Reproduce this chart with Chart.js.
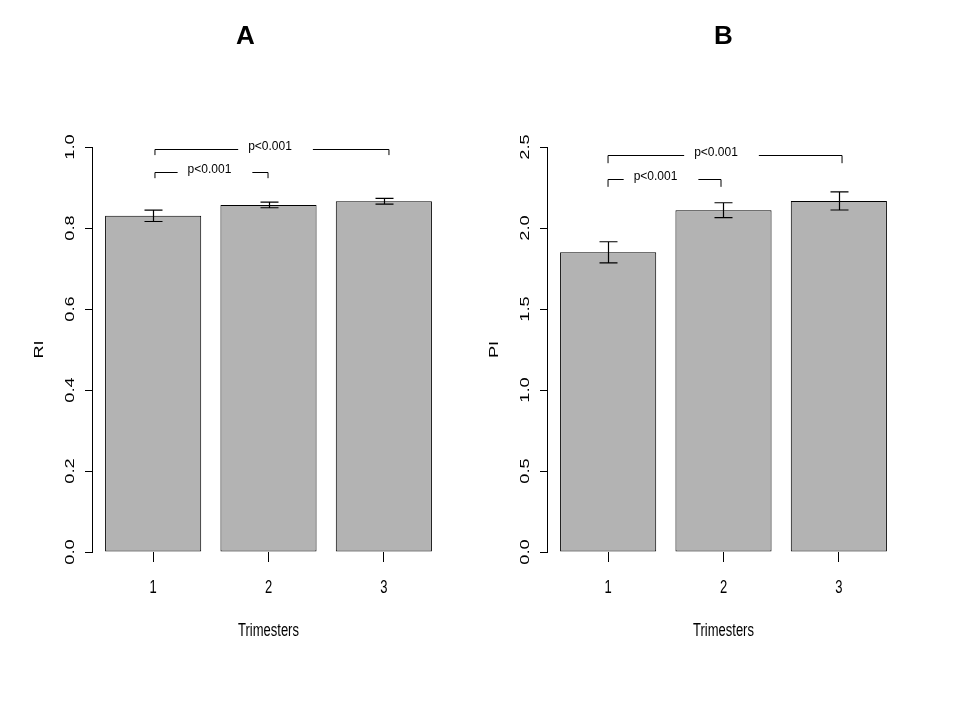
<!DOCTYPE html>
<html>
<head>
<meta charset="utf-8">
<script src="https://cdn.jsdelivr.net/npm/chart.js@4.4.1/dist/chart.umd.min.js"></script>
<style>
  html, body { margin: 0; padding: 0; background: #ffffff; }
  #wrap { position: relative; width: 960px; height: 720px; background: #ffffff; }
  .panel { position: absolute; top: 0; width: 480px; height: 720px; }
  #panelA { left: 0; }
  #panelB { left: 480px; }
</style>
</head>
<body>
<div id="wrap">
  <div class="panel" id="panelA"><canvas id="chartA" width="480" height="720"></canvas></div>
  <div class="panel" id="panelB"><canvas id="chartB" width="480" height="720"></canvas></div>
</div>
<script>
// ---------------- data ----------------
const categories = ['1', '2', '3'];
const xAxisTitle = 'Trimesters';

const riMeans  = [0.830, 0.857, 0.866];
const riErrors = [0.014, 0.007, 0.007];
const riTicks  = [0.0, 0.2, 0.4, 0.6, 0.8, 1.0];

const piMeans  = [1.850, 2.110, 2.167];
const piErrors = [0.065, 0.046, 0.056];
const piTicks  = [0.0, 0.5, 1.0, 1.5, 2.0, 2.5];

// significance brackets: x in axis units, y in value units
const riBrackets = [
  { x1: 0.719, x2: 1.895, y: 0.939, drop: 0.016, textX: 1.286, label: 'p<0.001' },
  { x1: 0.719, x2: 3.153, y: 0.996, drop: 0.016, textX: 1.916, label: 'p<0.001' }
];
const piBrackets = [
  { x1: 0.699, x2: 1.874, y: 2.302, drop: 0.048, textX: 1.193, label: 'p<0.001' },
  { x1: 0.699, x2: 3.133, y: 2.450, drop: 0.050, textX: 1.822, label: 'p<0.001' }
];

// ---------------- helpers ----------------
const FONT = '"Liberation Sans", Arial, Helvetica, sans-serif';
// R barplot layout: width 1, space 0.2
const barCenters = categories.map((c, i) => 0.2 + 1.2 * i + 0.5);
const xMin = 0.2 - 0.136, xMax = 3.6 + 0.136;

function drawText(ctx, str, x, y, o) {
  ctx.save();
  ctx.translate(x, y);
  if (o.rotate) ctx.rotate(-Math.PI / 2);
  ctx.scale(o.sx || 1, o.sy || 1);
  ctx.font = (o.bold ? 'bold ' : '') + o.size + 'px ' + FONT;
  ctx.fillStyle = '#000';
  ctx.textAlign = 'center';
  ctx.textBaseline = 'middle';
  ctx.fillText(str, 0, 0);
  ctx.restore();
}

function makeChart(id, means, errors, ticks, brackets, yTitle, title, pad) {
  const overlay = {
    id: 'overlay_' + id,
    afterDraw(chart) {
      const ctx = chart.ctx;
      const xs = chart.scales.x, ys = chart.scales.y;
      const area = chart.chartArea;
      // error bars
      ctx.save();
      ctx.strokeStyle = '#000';
      ctx.lineWidth = 1.2;
      means.forEach((m, i) => {
        const cx = Math.round(xs.getPixelForValue(barCenters[i])) + 0.5;
        const yt = ys.getPixelForValue(m + errors[i]);
        const yb = ys.getPixelForValue(m - errors[i]);
        ctx.beginPath();
        ctx.moveTo(cx, yt); ctx.lineTo(cx, yb);
        ctx.moveTo(cx - 9, yt); ctx.lineTo(cx + 9, yt);
        ctx.moveTo(cx - 9, yb); ctx.lineTo(cx + 9, yb);
        ctx.stroke();
      });
      ctx.restore();
      // brackets
      ctx.save();
      ctx.strokeStyle = '#000';
      ctx.lineWidth = 1;
      ctx.font = '12px ' + FONT;
      brackets.forEach(b => {
        const px1 = xs.getPixelForValue(b.x1);
        const px2 = xs.getPixelForValue(b.x2);
        const py = Math.round(ys.getPixelForValue(b.y)) + 0.5;
        const pyd = ys.getPixelForValue(b.y - b.drop);
        const tx = xs.getPixelForValue(b.textX);
        const tw = ctx.measureText(b.label).width;
        ctx.beginPath();
        ctx.moveTo(px1, pyd); ctx.lineTo(px1, py); ctx.lineTo(tx - tw / 2 - 10, py);
        ctx.moveTo(tx + tw / 2 + 21, py); ctx.lineTo(px2, py); ctx.lineTo(px2, pyd);
        ctx.stroke();
        drawText(ctx, b.label, tx, py - 3, { size: 12 });
      });
      ctx.restore();
      // y tick labels (rotated, R style)
      ticks.forEach(t => {
        drawText(ctx, t.toFixed(1), area.left - 22, ys.getPixelForValue(t), { size: 13, rotate: true, sx: 1.4 });
      });
      // x tick labels
      categories.forEach((c, i) => {
        drawText(ctx, c, xs.getPixelForValue(barCenters[i]), 588, { size: 13, sy: 1.4 });
      });
      // axis titles
      drawText(ctx, xAxisTitle, (area.left + area.right) / 2, 631, { size: 13, sy: 1.4 });
      drawText(ctx, yTitle, area.left - 53, (area.top + area.bottom) / 2, { size: 13, rotate: true, sx: 1.4 });
      // panel title
      drawText(ctx, title.text, title.x, 37, { size: 26, bold: true });
    }
  };

  return new Chart(document.getElementById(id), {
    type: 'bar',
    data: {
      datasets: [{
        data: means.map((m, i) => ({ x: barCenters[i], y: m })),
        backgroundColor: '#b3b3b3',
        borderColor: '#000000',
        borderWidth: 1,
        borderSkipped: false,
        barPercentage: 1 / 1.2,
        categoryPercentage: 1
      }]
    },
    options: {
      responsive: false,
      animation: false,
      devicePixelRatio: 1,
      layout: { padding: pad },
      plugins: { legend: { display: false }, tooltip: { enabled: false }, title: { display: false } },
      scales: {
        x: {
          type: 'linear',
          min: xMin,
          max: xMax,
          offset: false,
          afterBuildTicks: s => { s.ticks = barCenters.map(v => ({ value: v })); },
          afterFit: s => { s.height = 20; },
          ticks: { display: false },
          border: { display: false },
          grid: { offset: false, drawOnChartArea: false, drawTicks: true, tickLength: 10, color: '#000', lineWidth: 1 }
        },
        y: {
          type: 'linear',
          min: ticks[0],
          max: ticks[ticks.length - 1],
          afterBuildTicks: s => { s.ticks = ticks.map(v => ({ value: v })); },
          afterFit: s => { s.width = 20; },
          ticks: { display: false },
          border: { display: true, color: '#000', width: 1 },
          grid: { drawOnChartArea: false, drawTicks: true, tickLength: 7, color: '#000', lineWidth: 1 }
        }
      }
    },
    plugins: [overlay]
  });
}

makeChart('chartA', riMeans, riErrors, riTicks, riBrackets, 'RI',
  { text: 'A', x: 245.5 }, { left: 72, right: 35, top: 147, bottom: 148 });
makeChart('chartB', piMeans, piErrors, piTicks, piBrackets, 'PI',
  { text: 'B', x: 243.5 }, { left: 47, right: 60, top: 147, bottom: 148 });
</script>
</body>
</html>
